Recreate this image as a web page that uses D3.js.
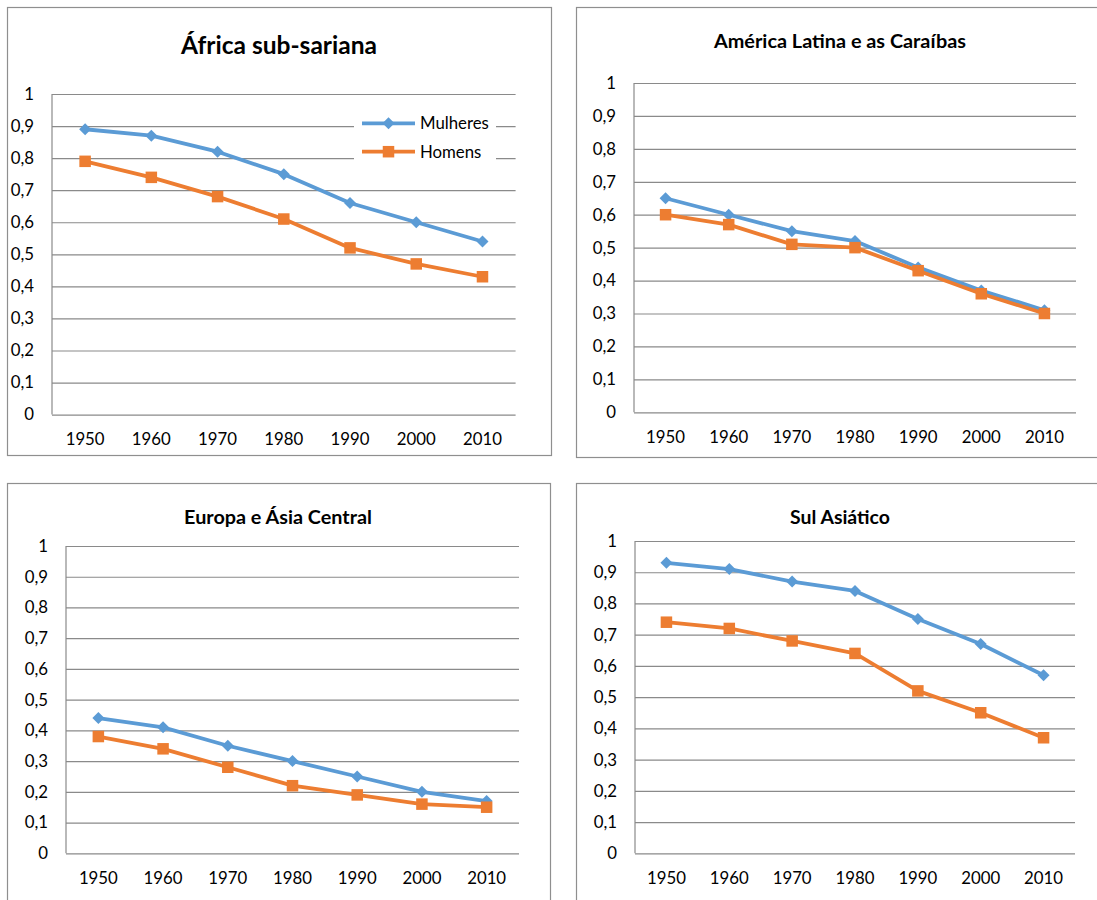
<!DOCTYPE html>
<html>
<head>
<meta charset="utf-8">
<script src="https://cdn.jsdelivr.net/npm/d3@7/dist/d3.min.js"></script>
<style>
  body { margin: 0; background: #fff; }
  svg { display: block; font-family: Lato, "Noto Sans", sans-serif; }
</style>
</head>
<body>
<svg id="chart" width="1097" height="900"></svg>
<script>
// Years on the horizontal axis
const years = ["1950", "1960", "1970", "1980", "1990", "2000", "2010"];
// Vertical tick values, shown with a decimal comma
const yTicks = [0, 0.1, 0.2, 0.3, 0.4, 0.5, 0.6, 0.7, 0.8, 0.9, 1];
const seriesNames = ["Mulheres", "Homens"];

// Region titles
const regionTitles = ["África sub-sariana", "América Latina e as Caraíbas", "Europa e Ásia Central", "Sul Asiático"];

// Values per region
const africaMulheres = [0.89, 0.87, 0.82, 0.75, 0.66, 0.60, 0.54];
const africaHomens   = [0.79, 0.74, 0.68, 0.61, 0.52, 0.47, 0.43];
const latamMulheres  = [0.65, 0.60, 0.55, 0.52, 0.44, 0.37, 0.31];
const latamHomens    = [0.60, 0.57, 0.51, 0.50, 0.43, 0.36, 0.30];
const europaMulheres = [0.44, 0.41, 0.35, 0.30, 0.25, 0.20, 0.17];
const europaHomens   = [0.38, 0.34, 0.28, 0.22, 0.19, 0.16, 0.15];
const sulMulheres    = [0.93, 0.91, 0.87, 0.84, 0.75, 0.67, 0.57];
const sulHomens      = [0.74, 0.72, 0.68, 0.64, 0.52, 0.45, 0.37];

const regionData = [
  [africaMulheres, africaHomens],
  [latamMulheres, latamHomens],
  [europaMulheres, europaHomens],
  [sulMulheres, sulHomens]
];

// Panel layout: outer frame, plot area, title placement
const panels = [
  { frame: [7, 7, 551, 455],    plot: [52, 94, 515.6, 414.6],  titleX: 279, titleY: 45,  titleW: 196, xLabY: 439, legend: true },
  { frame: [576, 7, 1100, 457], plot: [634, 83, 1076, 412.3],  titleX: 840, titleY: 41,  titleW: 252, xLabY: 437 },
  { frame: [7, 483, 550, 905],  plot: [66, 546, 519, 853.3],   titleX: 278, titleY: 517, titleW: 188, xLabY: 878 },
  { frame: [576, 483, 1100, 905], plot: [635, 541, 1075, 853.3], titleX: 840, titleY: 517, titleW: 100, xLabY: 878 }
];

const colors = { Mulheres: "#5B9BD5", Homens: "#ED7D31" };
const gridColor = "#8a8a8a";
const frameColor = "#8f8f8f";
const labelSize = 16.8;
const fmt = v => v === 0 ? "0" : v === 1 ? "1" : v.toFixed(1).replace(".", ",");

const svg = d3.select("#chart");

function fitText(sel, width, start) {
  sel.attr("font-size", start);
  const w = sel.node().getComputedTextLength();
  sel.attr("font-size", (start * width / w).toFixed(2));
}

function diamond(g, x, y, color) {
  const r = 6;
  g.append("path")
    .attr("d", `M${x},${y - r}L${x + r},${y}L${x},${y + r}L${x - r},${y}Z`)
    .attr("fill", color);
}
function square(g, x, y, color) {
  const s = 11.5;
  g.append("rect")
    .attr("x", x - s / 2).attr("y", y - s / 2)
    .attr("width", s).attr("height", s)
    .attr("fill", color);
}

panels.forEach((p, i) => {
  const g = svg.append("g");
  const [fx0, fy0, fx1, fy1] = p.frame;
  g.append("rect")
    .attr("x", fx0 + 0.5).attr("y", fy0 + 0.5)
    .attr("width", fx1 - fx0).attr("height", fy1 - fy0)
    .attr("fill", "#fff").attr("stroke", frameColor).attr("stroke-width", 1.2);

  const [px0, py0, px1, py1] = p.plot;
  const x = d3.scaleBand().domain(years).range([px0, px1]);
  const y = d3.scaleLinear().domain([0, 1]).range([py1, py0]);

  // Horizontal gridlines (the 0 line doubles as the category axis)
  const yAxis = d3.axisLeft(y).tickValues(yTicks).tickSize(-(px1 - px0)).tickPadding(18).tickFormat(fmt);
  const ya = g.append("g").attr("transform", `translate(${px0},0)`).call(yAxis);
  ya.select(".domain").remove();
  ya.selectAll(".tick line").attr("stroke", gridColor).attr("stroke-width", 1.2);
  ya.selectAll(".tick text").attr("font-size", labelSize).attr("fill", "#000")
    .attr("font-family", "Lato, sans-serif");

  // Vertical axis line
  g.append("line")
    .attr("x1", px0).attr("x2", px0).attr("y1", y(1)).attr("y2", y(0))
    .attr("stroke", gridColor).attr("stroke-width", 1.2);

  // Category labels
  const xAxis = d3.axisBottom(x).tickSize(0).tickPadding(0);
  const xa = g.append("g").attr("transform", `translate(0,${p.xLabY})`).call(xAxis);
  xa.select(".domain").remove();
  xa.selectAll(".tick text").attr("font-size", labelSize).attr("fill", "#000")
    .attr("dy", "0.35em").attr("font-family", "Lato, sans-serif");

  // Title
  const t = g.append("text")
    .attr("x", p.titleX).attr("y", p.titleY).attr("dy", "0.35em")
    .attr("text-anchor", "middle").attr("font-weight", "bold").attr("fill", "#000")
    .text(regionTitles[i]);
  fitText(t, p.titleW, 16);

  // Legend (first panel only)
  if (p.legend) {
    const lg = g.append("g");
    lg.append("rect").attr("x", 354).attr("y", 110).attr("width", 142).attr("height", 56).attr("fill", "#fff");
    seriesNames.forEach((name, k) => {
      const ly = 123.3 + k * 28.4;
      lg.append("line").attr("x1", 362).attr("x2", 415).attr("y1", ly).attr("y2", ly)
        .attr("stroke", colors[name]).attr("stroke-width", 3.8);
      if (k === 0) diamond(lg, 388.5, ly, colors[name]); else square(lg, 388.5, ly, colors[name]);
      lg.append("text").attr("x", 420).attr("y", ly).attr("dy", "0.35em")
        .attr("font-size", labelSize).attr("fill", "#000").text(name);
    });
  }

  // Series lines with markers
  const line = d3.line().x((d, j) => x(years[j]) + x.bandwidth() / 2).y(d => y(d));
  regionData[i].forEach((vals, k) => {
    const name = seriesNames[k];
    g.append("path").attr("d", line(vals)).attr("fill", "none")
      .attr("stroke", colors[name]).attr("stroke-width", 3.8).attr("stroke-linejoin", "round");
    vals.forEach((v, j) => {
      const cx = x(years[j]) + x.bandwidth() / 2;
      if (k === 0) diamond(g, cx, y(v), colors[name]); else square(g, cx, y(v), colors[name]);
    });
  });
});
</script>
</body>
</html>
